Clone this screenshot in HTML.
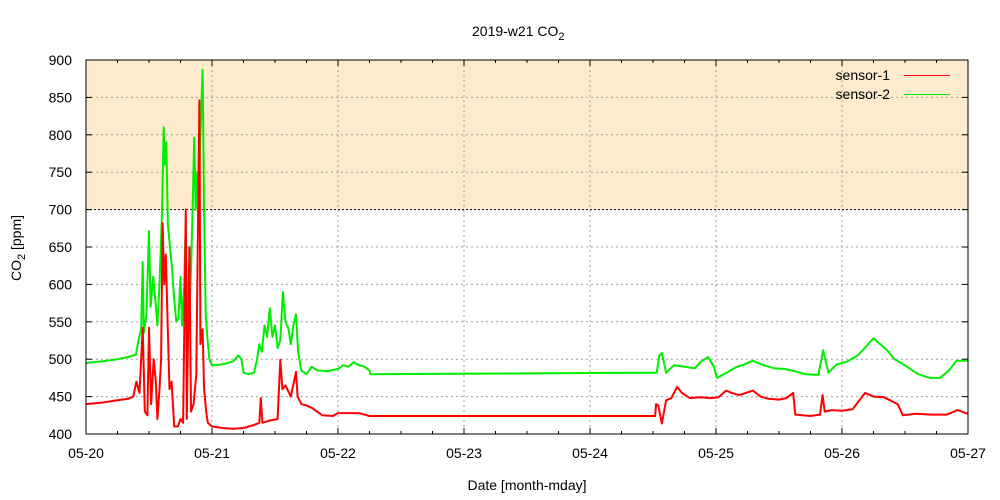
<!DOCTYPE html>
<html><head><meta charset="utf-8"><style>
body{margin:0;background:#fff}
svg{display:block;font-family:"Liberation Sans",sans-serif}
</style></head><body>
<svg id="chart" width="1000" height="500">
<g id="g"></g>
</svg>
<script>
const dayLabels=["05-20","05-21","05-22","05-23","05-24","05-25","05-26","05-27"];
const yTicks=[400,450,500,550,600,650,700,750,800,850,900];
const thresholdLow=700, thresholdHigh=900;
const sensor1Times=[0,3,6,8,9,9.6,10.2,10.8,11.2,11.7,12,12.4,12.9,13.3,13.6,14,14.3,14.6,14.9,15.2,15.5,15.9,16.3,16.8,17.5,18,18.5,19,19.2,19.7,20,20.5,21,21.6,21.8,22.2,22.5,22.9,23.2,24,26,28,30,32,33,33.3,33.6,35,36.5,37,37.4,38,39,40,40.3,41,42,43,44,45,47,48,50,52,54,108.4,108.6,109,109.7,110.5,111.5,112.6,113.5,115,117,119,120.5,121.9,123,124.4,125.7,127,128.5,130,132,133.4,134.7,135.1,136.5,138,139.8,140.3,140.7,142,144,146,148.4,150,152,154.6,155.6,158,161,164,166,168];
const sensor1Values=[440,442,445,447,450,470,455,542,430,425,542,440,500,470,420,460,500,682,600,640,560,460,470,410,410,420,415,700,420,650,430,440,480,846,520,540,460,430,415,410,408,407,408,412,415,448,415,418,420,499,460,465,450,483,450,440,438,435,430,425,424,428,428,428,424,424,440,438,414,445,448,463,455,448,449,448,449,458,455,452,455,458,450,447,446,448,455,426,425,424,426,452,430,432,431,433,455,450,449,440,425,427,426,426,432,427];
const sensor2Times=[0,3,6,8,9.5,10,10.5,10.8,11,11.5,12,12.3,12.8,13.2,13.6,14,14.5,14.8,15,15.3,15.6,16,16.4,16.8,17.2,17.6,18,18.3,18.7,19,19.3,19.7,20,20.3,20.6,20.9,21.2,21.5,21.8,22.2,22.5,22.8,23.1,23.5,24,26,28,29,29.6,30,31,32,32.6,33,33.5,34,34.5,35,35.5,36,36.5,37,37.5,38,38.6,39,39.5,40,40.4,41,42,43,44,46,48,49,50,51,52,53,54,54.2,108.4,108.7,109.2,109.7,110.5,112,114,116,117,118.5,119.6,120.2,122,124,125.4,127,129,131,133,135,137,139.5,140.4,141.4,143,145,147,150,152.6,154,156.4,158.5,160.8,162.7,164.5,165.8,168];
const sensor2Values=[495,497,500,503,506,525,540,630,535,560,671,570,610,580,545,600,700,810,760,790,680,650,620,580,550,555,610,545,600,686,560,560,620,700,796,700,750,720,800,887,700,560,530,500,492,493,497,505,500,482,480,482,500,520,510,545,530,568,530,545,515,525,590,550,540,520,545,560,510,485,480,490,485,484,487,492,490,496,492,490,485,480,482,482,505,508,482,492,490,488,496,503,490,475,482,490,493,498,492,488,487,484,480,479,512,482,493,497,505,528,512,500,490,480,475,475,486,498,498];

const ns="http://www.w3.org/2000/svg";
const g=document.getElementById('g');
const L=86,R=968,T=60,B=434;
const X=t=>L+(t/168)*(R-L);
const Y=v=>B-(v-400)/500*(B-T);
function mk(tag,attrs,parent){const e=document.createElementNS(ns,tag);for(const k in attrs)e.setAttribute(k,attrs[k]);(parent||g).appendChild(e);return e;}

const band=mk('rect',{x:L,y:Y(thresholdHigh),width:R-L,height:Y(thresholdLow)-Y(thresholdHigh),fill:'#feebcd'});



yTicks.forEach(v=>{
  const y=Y(v);
  if(v>400&&v<900){const gl=mk('line',{x1:L,x2:R,y1:y,y2:y,stroke:v===700?'#000':'#a0a0a0','stroke-dasharray':v===700?'2,2':'2,3','stroke-width':1});
  
  }
  mk('line',{x1:L,x2:L+6,y1:y,y2:y,stroke:'#000'});
  mk('line',{x1:R-6,x2:R,y1:y,y2:y,stroke:'#000'});
  const tx=mk('text',{x:L-14,y:y+5,'text-anchor':'end','font-size':14,fill:'#000'});
  tx.textContent=v;
  
  
});
dayLabels.forEach((d,i)=>{
  const x=X(i*24);
  if(i>0&&i<7){const gl=mk('line',{x1:x,x2:x,y1:T,y2:B,stroke:'#a0a0a0','stroke-dasharray':'2,3'});
  
  }
  mk('line',{x1:x,x2:x,y1:B,y2:B-6,stroke:'#000'});
  mk('line',{x1:x,x2:x,y1:T,y2:T+6,stroke:'#000'});
  if(i<7)for(let k=1;k<4;k++){const xm=X(i*24+k*6);mk('line',{x1:xm,x2:xm,y1:B,y2:B-3,stroke:'#000'});mk('line',{x1:xm,x2:xm,y1:T,y2:T+3,stroke:'#000'});}
  const tx=mk('text',{x:x,y:B+24,'text-anchor':'middle','font-size':14,fill:'#000'});
  tx.textContent=d;
  
  
});

function series(ts,vs,color,name){
  const p=ts.map((t,i)=>(i?'L':'M')+X(t).toFixed(1)+','+Y(vs[i]).toFixed(1)).join('');
  const e=mk('path',{d:p,fill:'none',stroke:color,'stroke-width':2,'stroke-linejoin':'round'});
  
  
}
series(sensor2Times,sensor2Values,'#00ee00','sensor-2-line');
series(sensor1Times,sensor1Values,'#ff0000','sensor-1-line');

const frame=mk('rect',{x:L,y:T,width:R-L,height:B-T,fill:'none',stroke:'#000','stroke-width':1});


</script>
<svg width="1000" height="500" style="position:absolute;left:0;top:0">
<g font-family="Liberation Sans, sans-serif" font-size="14" fill="#000">
<text x="472" y="36">2019-w21 CO<tspan dy="4" font-size="11">2</tspan></text>
<text transform="translate(21,248) rotate(-90)" text-anchor="middle">CO<tspan dy="4" font-size="11">2</tspan><tspan dy="-4"> [ppm]</tspan></text>
<text x="527" y="490" text-anchor="middle">Date [month-mday]</text>
<g><text x="890" y="80" text-anchor="end">sensor-1</text><line x1="904" x2="950" y1="75.5" y2="75.5" stroke="#ff0000" stroke-width="1"/></g>
<g><text x="890" y="99" text-anchor="end">sensor-2</text><line x1="904" x2="950" y1="94.5" y2="94.5" stroke="#00ee00" stroke-width="1"/></g>
</g></svg>
</body></html>
